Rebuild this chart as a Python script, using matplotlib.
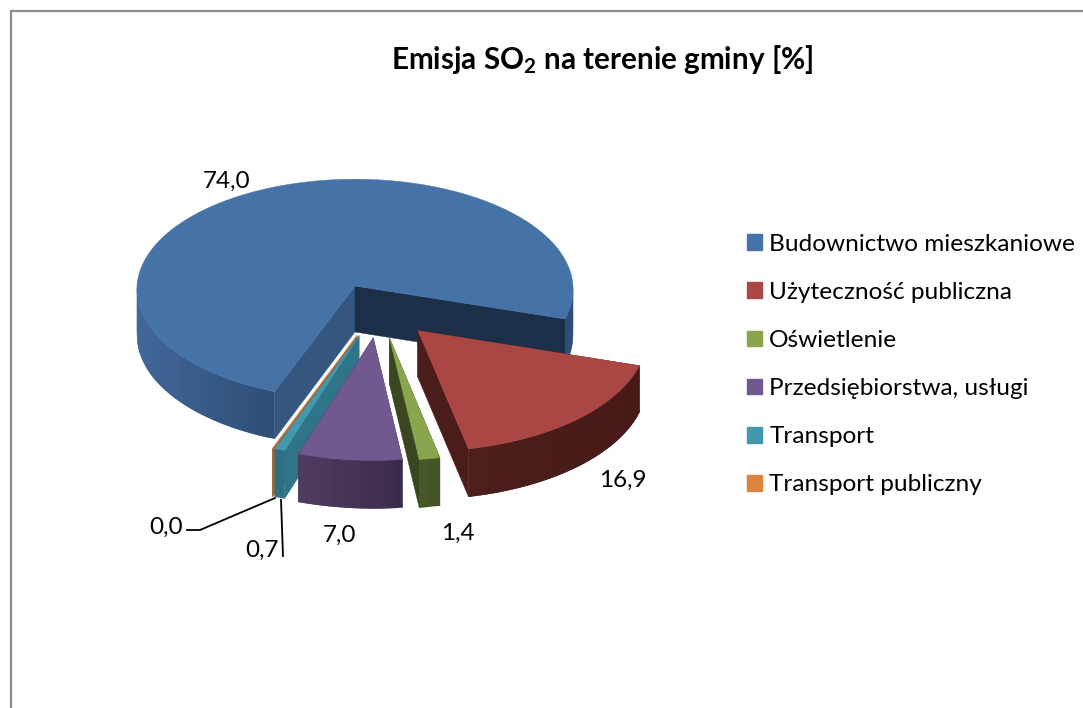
import matplotlib
matplotlib.use("Agg")
import matplotlib.pyplot as plt
from matplotlib.colors import to_rgb
from matplotlib.patches import Patch, Polygon
import numpy as np

plt.rcParams['font.family'] = ['Lato', 'DejaVu Sans']
plt.rcParams['mathtext.default'] = 'regular'

# dane z wykresu
kategorie = ["Budownictwo mieszkaniowe", "Użyteczność publiczna", "Oświetlenie",
             "Przedsiębiorstwa, usługi", "Transport", "Transport publiczny"]
wartosci = [74.0, 16.9, 1.4, 7.0, 0.7, 0.04]

# wyglad: gora, sciana (2 kolory), sciana poczatkowa, sciana koncowa
kolory_gora = ["#4572a7", "#aa4643", "#89a54e", "#71588f", "#4198af", "#db843d"]
kolory_sciana = [("#41689a", "#2f4e77"), ("#4d1e1b", "#471a18"), ("#4a5a28", "#435225"),
                 ("#523c62", "#3b2b4c"), ("#2f6f83", "#2f6f83"), ("#a8652f", "#a8652f")]
kolory_start = ["#35567f", "#4a1c1a", "#3a4620", "#3b2b4c", "#2f7488", "#a8652f"]
kolory_koniec = ["#1b2f48", "#4a1c1a", "#3a4620", "#3b2b4c", "#2f7488", "#a8652f"]
zakres_x = [(137, 272), (475, 640), (420, 445), (298, 405), (272, 290), (272, 290)]
przesuniecia = [(0, 0), (62, 44), (34, 51), (18, 51), (4, 49), (2, 49)]
skale = [1.0, 1.04, 1.05, 1.05, 1.04, 1.04]
kolejnosc = [0, 1, 5, 4, 2, 3]

CX, CY = 355, 286
RX, RY = 218, 110
GLEBOKOSC = 46
PERSP = 0.03
KAT_START = 249.0


def rzut(x, y, z=0.0):
    s = 1.0 / (1.0 + PERSP * y)
    return CX + RX * x * s, CY - RY * y * s + GLEBOKOSC * z * s


def miesz(c1, c2, f):
    a, b = np.array(to_rgb(c1)), np.array(to_rgb(c2))
    return tuple(a + (b - a) * f)


def rysuj_kawalek(ax, i, t0, t1):
    dx, dy = przesuniecia[i]
    ox, oy = dx / RX, -dy / RY
    kroki = max(2, int(abs(t1 - t0) / 1.5))
    t = np.radians(np.linspace(t0, t1, kroki))
    xs = ox + skale[i] * np.cos(t)
    ys = oy + skale[i] * np.sin(t)

    # sciany boczne od centrum
    for xk, yk, kol in ((xs[0], ys[0], kolory_start[i]), (xs[-1], ys[-1], kolory_koniec[i])):
        pts = [rzut(ox, oy), rzut(xk, yk), rzut(xk, yk, 1), rzut(ox, oy, 1)]
        ax.add_patch(Polygon(pts, facecolor=kol, edgecolor=kol, lw=0.3))

    # sciana zewnetrzna, paski nachodza na siebie zeby nie bylo szczelin
    for j in range(len(t) - 1):
        if np.sin(t[j]) + np.sin(t[j + 1]) > 0.1:
            continue
        k = min(j + 2, len(t) - 1)
        pts = [rzut(xs[j], ys[j]), rzut(xs[k], ys[k]),
               rzut(xs[k], ys[k], 1), rzut(xs[j], ys[j], 1)]
        f = np.clip((pts[0][0] - zakres_x[i][0]) / (zakres_x[i][1] - zakres_x[i][0]), 0, 1)
        kol = miesz(kolory_sciana[i][0], kolory_sciana[i][1], f)
        ax.add_patch(Polygon(pts, facecolor=kol, edgecolor="none", lw=0))

    # gora
    gora = [rzut(ox, oy)] + [rzut(a, b) for a, b in zip(xs, ys)]
    ax.add_patch(Polygon(gora, facecolor=kolory_gora[i], edgecolor=kolory_gora[i], lw=0.3))


fig = plt.figure(figsize=(10.83, 7.08), dpi=100)
ax = fig.add_axes([0, 0, 1, 1])
ax.set_xlim(0, 1083)
ax.set_ylim(708, 0)
ax.axis("off")

# ramka
ax.plot([10.5, 10.5, 1083], [708, 10.5, 10.5], color="#8c8c8c", lw=1.6)

# kat kazdego kawalka (zgodnie z ruchem wskazowek)
katy = KAT_START - np.concatenate([[0], np.cumsum(wartosci)]) / sum(wartosci) * 360
for i in kolejnosc:
    rysuj_kawalek(ax, i, katy[i], katy[i + 1])

ax.text(602, 60, "Emisja SO$_2$ na terenie gminy [%]", ha="center", va="center",
        fontsize=21.3, fontweight="bold", color="black")

# etykiety danych
poz_etykiet = [(227, 181), (623, 480), (458, 533), (340, 535), (262, 550), (166, 527)]
for w, (x, y) in zip(range(6), poz_etykiet):
    ax.text(x, y, f"{wartosci[w]:.1f}".replace(".", ","), ha="center", va="center",
            fontsize=17.5, color="black")

# linie odniesienia
ax.plot([187, 200, 275], [530, 530, 498], color="black", lw=1.3)
ax.plot([281, 283], [500, 556], color="black", lw=1.3)

uchwyty = [Patch(facecolor=k, edgecolor=k) for k in kolory_gora]
ax.legend(uchwyty, kategorie, loc="upper left", bbox_to_anchor=(737.3 / 1083, 1 - 224 / 708),
          frameon=False, fontsize=17.6, handlelength=0.62, handleheight=0.62,
          handletextpad=0.29, labelspacing=1.11, borderaxespad=0, borderpad=0.4)

fig.savefig("out.png", dpi=100)
